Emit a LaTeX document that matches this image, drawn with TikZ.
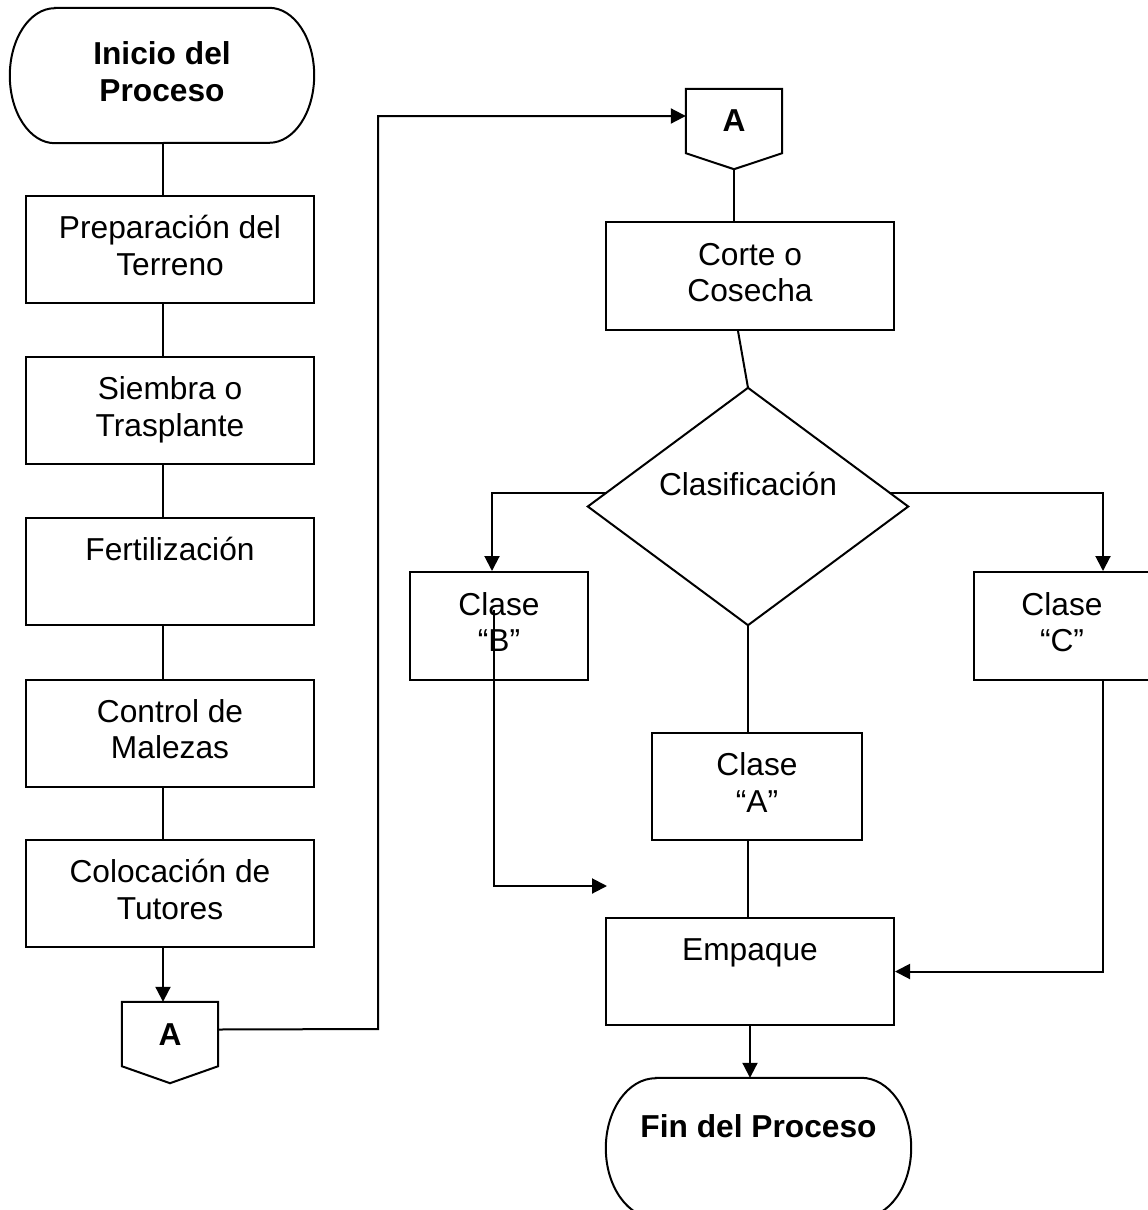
\documentclass[tikz,border=0pt]{standalone}
\usepackage{fontspec}
\setmainfont{Liberation Sans}
\usetikzlibrary{arrows.meta,shapes.geometric,calc}
\tikzset{
  ln/.style={line width=2pt, draw=black},
  arr/.style={ln, -{Triangle[length=15pt,width=15pt]}},
  box/.style={ln, rectangle, inner sep=0pt, align=center, font=\fontsize{31.7}{36.5}\selectfont},
  ghost/.style={draw=none, rectangle, inner sep=0pt, align=center, font=\fontsize{31.7}{36.5}\selectfont\bfseries},
  conn/.style={draw=none, rectangle, inner sep=0pt, minimum width=96pt, minimum height=80pt, font=\fontsize{31.7}{36.5}\selectfont\bfseries, text height=23pt, text depth=18pt},
  dia/.style={draw=none, rectangle, inner sep=0pt, minimum width=320pt, minimum height=237pt, align=center, font=\fontsize{31.7}{36.5}\selectfont}
}
\begin{document}
\begin{tikzpicture}[x=1pt,y=-1pt]
\useasboundingbox (0,0) rectangle (1148,1210);
\fill[white] (0,0) rectangle (1148,1210);

% start terminal
\node[ghost, minimum width=304pt, minimum height=135pt] (st) at (162,75.5) {\strut Inicio del\\\strut Proceso};
\draw[ln] ([xshift=45pt]st.north west) -- ([xshift=-45pt]st.north east)
  arc[start angle=90, end angle=-90, x radius=45pt, y radius=67.5pt]
  -- ([xshift=45pt]st.south west)
  arc[start angle=270, end angle=90, x radius=45pt, y radius=67.5pt] -- cycle;

% left column boxes
\node[box, minimum width=288pt, minimum height=107pt] (b1) at (170,249.5) {\strut Preparación del\\\strut Terreno};
\node[box, minimum width=288pt, minimum height=107pt] (b2) at (170,410.5) {\strut Siembra o\\\strut Trasplante};
\node[box, minimum width=288pt, minimum height=107pt] (b3) at (170,571.5) {\strut Fertilización\\\strut};
\node[box, minimum width=288pt, minimum height=107pt] (b4) at (170,733) {\strut Control de\\\strut Malezas};
\node[box, minimum width=288pt, minimum height=107pt] (b5) at (170,893.5) {\strut Colocación de\\\strut Tutores};

% off-page connector 1
\node[conn, minimum height=81pt] (a1) at (170,1042.5) {A};
\draw[ln] (a1.north west) -- (a1.north east) -- ([yshift=17pt]a1.south east) -- (a1.south)
  -- ([yshift=17pt]a1.south west) -- cycle;

% off-page connector 2
\node[conn] (a2) at (734,129) {A};
\draw[ln] (a2.north west) -- (a2.north east) -- ([yshift=16pt]a2.south east) -- (a2.south)
  -- ([yshift=16pt]a2.south west) -- cycle;

% right column
\node[box, minimum width=288pt, minimum height=108pt] (corte) at (750,276) {\strut Corte o\\\strut Cosecha};
\node[dia] (diam) at (748,506.5) {\strut Clasificación\\\strut};
\draw[ln] (diam.north) -- (diam.east) -- (diam.south) -- (diam.west) -- cycle;
\node[box, minimum width=178pt, minimum height=108pt] (claseB) at (499,626) {\strut Clase\\\strut “B”};
\node[box, minimum width=176pt, minimum height=108pt] (claseC) at (1062,626) {\strut Clase\\\strut “C”};
\node[box, minimum width=210pt, minimum height=107pt] (claseA) at (757,786.5) {\strut Clase\\\strut “A”};
\node[box, minimum width=288pt, minimum height=107pt] (emp) at (750,971.5) {\strut Empaque\\\strut};

% end terminal
\node[ghost, minimum width=305pt, minimum height=140pt] (fin) at (758.5,1148) {\strut Fin del Proceso\\\strut};
\draw[ln] ([xshift=50pt]fin.north west) -- ([xshift=-50pt]fin.north east)
  arc[start angle=90, end angle=-90, x radius=50pt, y radius=70pt]
  -- ([xshift=50pt]fin.south west)
  arc[start angle=270, end angle=90, x radius=50pt, y radius=70pt] -- cycle;

% left column connectors
\draw[ln] ([xshift=1pt]st.south) -- ([xshift=1pt]st.south |- b1.north);
\draw[ln] ([xshift=1pt]st.south |- b1.south) -- ([xshift=1pt]st.south |- b2.north);
\draw[ln] ([xshift=1pt]st.south |- b2.south) -- ([xshift=1pt]st.south |- b3.north);
\draw[ln] ([xshift=1pt]st.south |- b3.south) -- ([xshift=1pt]st.south |- b4.north);
\draw[ln] ([xshift=1pt]st.south |- b4.south) -- ([xshift=1pt]st.south |- b5.north);
\draw[arr] ([xshift=1pt]st.south |- b5.south) -- ([xshift=1pt]st.south |- a1.north);

% A to A
\coordinate (j1) at (378,1029);
\coordinate (j2) at (378,116);
\draw[arr] ([yshift=13pt]a1.east) -- (j1) -- (j2) -- (j2 -| a2.west);

% right column connectors
\draw[ln] (a2.south) -- (a2.south |- corte.north);
\draw[ln] ([xshift=-12pt]corte.south) -- (diam.north);
\draw[arr] ($(diam.west)!0.118!(diam.north)$) -| ([xshift=-7pt]claseB.north);
\draw[arr] ($(diam.east)!0.118!(diam.north)$) -| ([xshift=41pt]claseC.north);
\draw[ln] (diam.south) -- (diam.south |- claseA.north);
\draw[ln] (diam.south |- claseA.south) -- (diam.south |- emp.north);
\draw[arr] ([xshift=41pt]claseC.south) |- (emp.east);
\coordinate (bs) at (494,610);
\coordinate (be) at (607,886);
\draw[arr] (bs) |- (be);
\draw[arr] (emp.south) -- (emp.south |- fin.north);
\end{tikzpicture}
\end{document}
